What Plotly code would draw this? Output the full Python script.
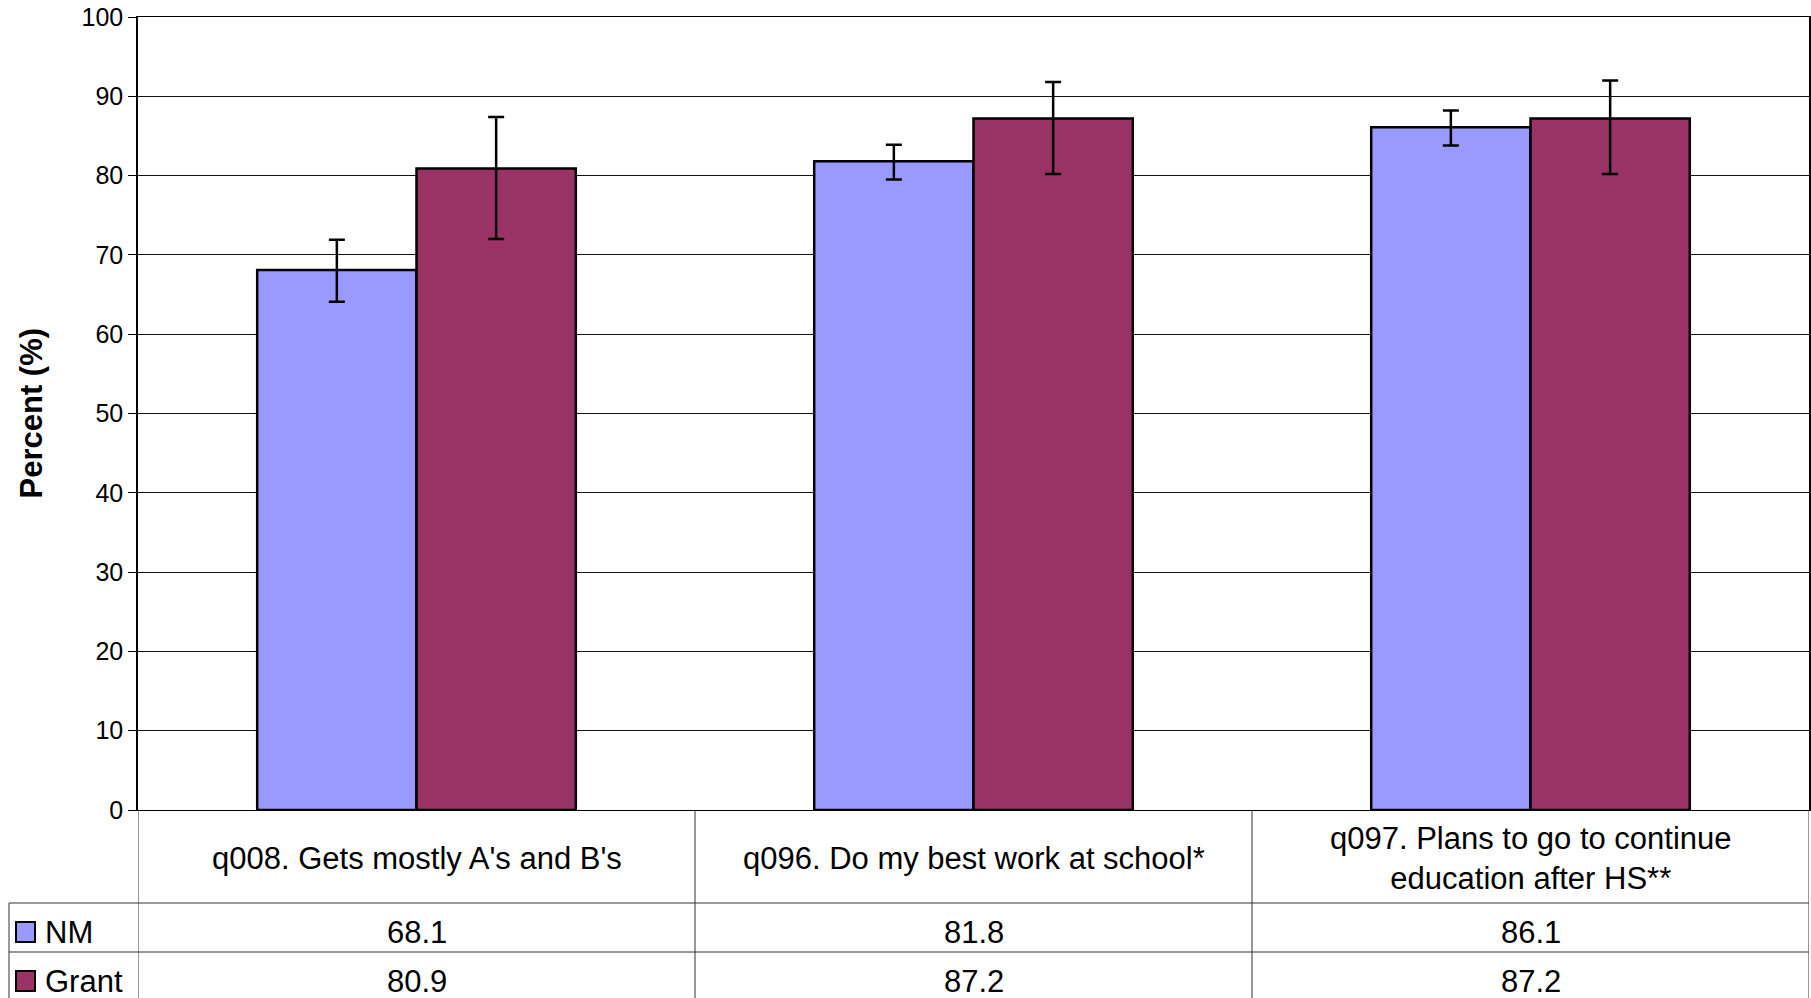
import plotly.graph_objects as go

# chart data
categories = ["q008. Gets mostly A's and B's",
              "q096. Do my best work at school*",
              "q097. Plans to go to continue<br>education after HS**"]
series_names = ["NM", "Grant"]
nm_values = [68.1, 81.8, 86.1]
grant_values = [80.9, 87.2, 87.2]
nm_upper = [71.9, 83.9, 88.2]
nm_lower = [64.1, 79.5, 83.8]
grant_upper = [87.4, 91.8, 92.0]
grant_lower = [72.0, 80.2, 80.2]
y_ticks = [0, 10, 20, 30, 40, 50, 60, 70, 80, 90, 100]

W, H = 1811, 998
nm_colour = "#9999FF"
grant_colour = "#993366"
font = "Arial, Liberation Sans, sans-serif"


def px(x):
    return x / W


def py(y):
    return 1 - y / H


def err(vals, hi, lo):
    plus = [h - v for v, h in zip(vals, hi)]
    minus = [v - l for v, l in zip(vals, lo)]
    return dict(type="data", symmetric=False, array=plus, arrayminus=minus,
                color="black", thickness=2.5, width=8)


fig = go.Figure()
fig.add_trace(go.Bar(x=categories, y=nm_values, name=series_names[0],
                     marker=dict(color=nm_colour, line=dict(color="black", width=2.5)),
                     error_y=err(nm_values, nm_upper, nm_lower)))
fig.add_trace(go.Bar(x=categories, y=grant_values, name=series_names[1],
                     marker=dict(color=grant_colour, line=dict(color="black", width=2.5)),
                     error_y=err(grant_values, grant_upper, grant_lower)))

# plot area in pixels
left, right, top, bottom = 138, 1809, 17, 810
row1, row2 = 903, 952

fig.update_layout(
    width=W, height=H, margin=dict(l=0, r=0, t=0, b=0),
    paper_bgcolor="white", plot_bgcolor="white",
    barmode="group", bargap=0.428, bargroupgap=0,
    showlegend=False,
    font=dict(family=font, size=31, color="black"),
    xaxis=dict(domain=[px(left), px(right)], type="category", range=[-0.5, 2.5],
               showticklabels=False, showgrid=False, showline=True, mirror=True,
               linecolor="black", linewidth=1, ticks="", automargin=False),
    yaxis=dict(domain=[py(bottom), py(top)], range=[0, 100], tickvals=y_ticks,
               showgrid=True, gridcolor="#111111", gridwidth=1,
               showline=True, mirror=True, linecolor="black", linewidth=1.5,
               ticks="outside", ticklen=8, tickcolor="black",
               tickfont=dict(size=25), zeroline=False, automargin=False),
)

shapes = []
line = dict(color="#333333", width=1)
# vertical table lines at category boundaries
for b in [-0.5, 0.5, 1.5, 2.5]:
    shapes.append(dict(type="line", xref="x", yref="paper", x0=b, x1=b,
                       y0=py(bottom), y1=0, line=line))
# horizontal row lines
for r in [row1, row2]:
    shapes.append(dict(type="line", xref="paper", yref="paper", x0=px(9), x1=px(right),
                       y0=py(r), y1=py(r), line=line))
shapes.append(dict(type="line", xref="paper", yref="paper", x0=px(9), x1=px(9),
                   y0=py(row1), y1=0, line=line))

annotations = []
for c in categories:
    annotations.append(dict(x=c, xref="x", y=py((bottom + row1) / 2 + 2), yref="paper",
                            text=c, showarrow=False, font=dict(size=31),
                            xanchor="center", yanchor="middle"))
rows = [(series_names[0], nm_values, nm_colour, 932),
        (series_names[1], grant_values, grant_colour, 981)]
for name, vals, col, yc in rows:
    for c, v in zip(categories, vals):
        annotations.append(dict(x=c, xref="x", y=py(yc), yref="paper",
                                text=f"{v:.1f}", showarrow=False, font=dict(size=31),
                                xanchor="center", yanchor="middle"))
    shapes.append(dict(type="rect", xref="paper", yref="paper",
                       x0=px(16), x1=px(35), y0=py(yc - 10), y1=py(yc + 10),
                       fillcolor=col, line=dict(color="black", width=2)))
    annotations.append(dict(x=px(43), xref="paper", y=py(yc), yref="paper",
                            text=name, showarrow=False, font=dict(size=31),
                            xanchor="left", yanchor="middle"))

annotations.append(dict(x=px(31), xref="paper", y=py((top + bottom) / 2), yref="paper",
                        text="<b>Percent (%)</b>", textangle=-90, showarrow=False,
                        font=dict(size=31), xanchor="center", yanchor="middle"))

fig.update_layout(shapes=shapes, annotations=annotations)
fig.write_html("out.html", config={"displayModeBar": False},
               post_script="document.body.style.margin='0';")
